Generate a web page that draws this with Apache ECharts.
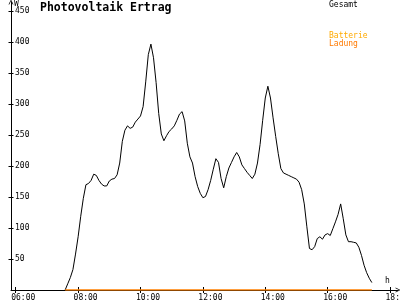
<!DOCTYPE html>
<html>
<head>
<meta charset="utf-8">
<script src="https://cdn.jsdelivr.net/npm/echarts@6/dist/echarts.min.js"></script>
<style>html,body{margin:0;padding:0;background:#fff}#c{width:400px;height:300px}</style>
</head>
<body>
<div id="c"></div>
<script>
// Data (5-minute samples)
const startTime = "07:35";
const gesamtValues = [
  0, 10, 20, 33, 58, 86, 119, 148, 170, 172,
  177, 187, 185, 177, 171, 168, 168, 176, 179, 180,
  186, 205, 240, 258, 265, 261, 263, 271, 276, 281,
  296, 336, 380, 397, 375, 335, 285, 252, 241, 249,
  256, 260, 265, 274, 284, 288, 273, 237, 215, 205,
  183, 167, 156, 149, 151, 162, 177, 195, 212, 206,
  180, 165, 183, 197, 206, 215, 222, 215, 202, 196,
  190, 185, 180, 187, 205, 235, 274, 310, 329, 310,
  278, 248, 220, 196, 189, 187, 185, 183, 181, 179,
  174, 162, 139, 102, 67, 65, 70, 83, 86, 82,
  89, 91, 88, 99, 110, 122, 139, 115, 89, 78,
  78, 77, 76, 69, 56, 40, 28, 19, 12
];
const ladungValues = gesamtValues.map(() => 0);
const xTickHours = [6, 8, 10, 12, 14, 16, 18];
const yTickValues = [50, 100, 150, 200, 250, 300, 350, 400, 450];
const titleText = "Photovoltaik Ertrag";
const legendGesamt = "Gesamt";
const legendBatterie = "Batterie";
const legendLadung = "Ladung";
const yUnit = "W";
const xUnit = "h";

function toHour(s) { const p = s.split(":"); return +p[0] + (+p[1]) / 60; }
const t0 = toHour(startTime);
const gesamtData = gesamtValues.map((v, i) => [t0 + i * 5 / 60, v]);
const ladungData = ladungValues.map((v, i) => [t0 + i * 5 / 60, v]);
function fmtH(v) { const h = Math.round(v); return (h < 10 ? "0" : "") + h + ":00"; }

const FONT = "DejaVu Sans Mono";
const arrowUp = 'path://M0,10 L5,0 L10,10 L8.5,10 L5,3 L1.5,10 Z';
const X_MIN = 5.848, X_MAX = 18.255;
const LABEL_SHIFT = 0.145; // labels start slightly left of their tick
const xLabelValues = xTickHours.map(h => h - LABEL_SHIFT);
function txt(text, left, top, size, color, weight) {
  return {text: text, left: left, top: top, padding: 0,
    textStyle: {fontFamily: FONT, fontSize: size, fontWeight: weight || 'normal', color: color}};
}

const chart = echarts.init(document.getElementById('c'), null, {renderer: 'canvas'});
chart.setOption({
  animation: false,
  backgroundColor: '#ffffff',
  title: [
    txt(titleText, 40, 2, 11.5, '#000', 'bold'),
    txt(legendGesamt, 329, 1, 8, '#000'),
    txt(legendBatterie, 329, 32, 8, '#ffaa00'),
    txt(legendLadung, 329, 39.5, 8, '#ff7a00'),
    txt(yUnit, 14, 0, 8, '#000'),
    txt(xUnit, 385, 277, 8, '#000')
  ],
  grid: {left: 11, right: 2, top: 2, bottom: 10, outerBoundsMode: 'none', containLabel: false},
  xAxis: [
    {
      type: 'value', min: X_MIN, max: X_MAX,
      axisLine: {show: true, onZero: false, lineStyle: {color: '#000', width: 1}, symbol: ['none', arrowUp], symbolSize: [6, 5]},
      axisTick: {show: true, inside: false, length: 3, lineStyle: {color: '#000'}, customValues: xTickHours},
      axisLabel: {show: false},
      splitLine: {show: false}
    },
    {
      type: 'value', min: X_MIN, max: X_MAX, position: 'bottom',
      axisLine: {show: false},
      axisTick: {show: true, inside: true, length: 3, lineStyle: {color: '#000'}, customValues: xTickHours},
      axisLabel: {show: false},
      splitLine: {show: false}
    },
    {
      type: 'value', min: X_MIN, max: X_MAX, position: 'bottom',
      axisLine: {show: false},
      axisTick: {show: false},
      axisLabel: {show: true, margin: 4, align: 'left', fontFamily: FONT, fontSize: 8, color: '#000',
        customValues: xLabelValues, formatter: fmtH},
      splitLine: {show: false}
    }
  ],
  yAxis: [
    {
      type: 'value', min: 0, max: 465,
      axisLine: {show: true, onZero: false, lineStyle: {color: '#000', width: 1}, symbol: ['none', arrowUp], symbolSize: [6, 5]},
      axisTick: {show: true, inside: false, length: 2.5, lineStyle: {color: '#000'}, customValues: yTickValues},
      axisLabel: {show: true, inside: true, margin: 4, fontFamily: FONT, fontSize: 8, color: '#000', customValues: yTickValues},
      splitLine: {show: false}
    },
    {
      type: 'value', min: 0, max: 465, position: 'left',
      axisLine: {show: false},
      axisTick: {show: true, inside: true, length: 2.5, lineStyle: {color: '#000'}, customValues: yTickValues},
      axisLabel: {show: false},
      splitLine: {show: false}
    }
  ],
  series: [
    {name: legendGesamt, type: 'line', data: gesamtData, showSymbol: false, symbol: 'none',
     lineStyle: {color: '#000', width: 1}, z: 3},
    {name: legendBatterie + ' ' + legendLadung, type: 'line', data: ladungData, showSymbol: false, symbol: 'none',
     lineStyle: {color: '#ff8000', width: 1.5}, z: 4}
  ]
});
</script>
</body>
</html>
